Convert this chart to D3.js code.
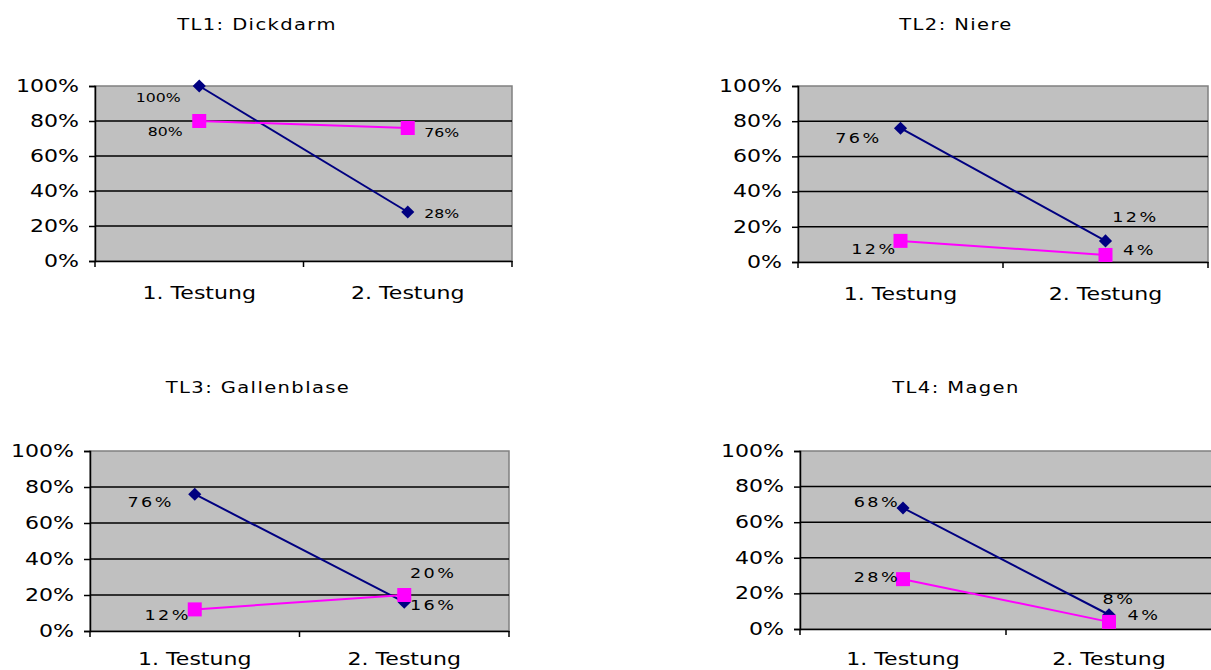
<!DOCTYPE html>
<html><head><meta charset="utf-8">
<script src="https://cdn.jsdelivr.net/npm/d3@7"></script>
<style>body{margin:0;background:#fff}svg{display:block}</style>
</head><body>
<script>
// ---- data ----
const categories = ["1. Testung", "2. Testung"];
const titles = ["TL1: Dickdarm", "TL2: Niere", "TL3: Gallenblase", "TL4: Magen"];
const seriesNavy = [[100, 28], [76, 12], [76, 16], [68, 8]];
const seriesPink = [[80, 76], [12, 4], [12, 20], [28, 4]];
const yTicks = [0, 20, 40, 60, 80, 100];

// ---- layout (positions / styles) ----
const panels = [
  {l: 95, r: 512, t: 86, b: 261, tx: 257, ty: 25, xly: 32, lblSize: 12.5, lblSp: 0},
  {l: 798, r: 1208, t: 86, b: 262, tx: 956, ty: 25, xly: 32, lblSize: 14, lblSp: 2},
  {l: 90, r: 509, t: 451, b: 631, tx: 258, ty: 388, xly: 28, lblSize: 14, lblSp: 2},
  {l: 800, r: 1212, t: 451, b: 629, tx: 956, ty: 388, xly: 30, lblSize: 14, lblSp: 2}
];
const navyOffsets = [[[-41, 12], [34, 2]], [[-42, 10], [30, -24]], [[-44, 8], [29, 3]], [[-26, -6], [10, -16]]];
const pinkOffsets = [[[-34, 11], [34, 5]], [[-26, 8], [34, -5]], [[-27, 6], [29, -22]], [[-26, -2], [35, -7]]];
const SX = 1.26;
const FONT = "'DejaVu Sans', Verdana, sans-serif";

const svg = d3.select("body").append("svg").attr("width", 1211).attr("height", 670);

function stretchedText(g, x, y, str, size, anchor, spacing) {
  const gg = g.append("g").attr("transform", `translate(${x},${y}) scale(${SX},1)`);
  gg.append("text").attr("x", 0).attr("y", 0)
    .attr("text-anchor", anchor).attr("dominant-baseline", "central")
    .attr("font-family", FONT).attr("font-size", size)
    .attr("letter-spacing", spacing || 0)
    .attr("fill", "#000").text(str);
}

panels.forEach((p, i) => {
  const g = svg.append("g");
  const x = d3.scaleBand().domain(categories).range([p.l, p.r]).padding(0);
  const y = d3.scaleLinear().domain([0, 100]).range([p.b, p.t]);
  const cx = c => x(c) + x.bandwidth() / 2;

  // plot area
  g.append("rect").attr("x", p.l).attr("y", p.t).attr("width", p.r - p.l).attr("height", p.b - p.t)
    .attr("fill", "#c0c0c0").attr("stroke", "#808080").attr("stroke-width", 1.5);

  // gridlines
  g.selectAll(".grid").data(yTicks.filter(v => v > 0 && v < 100)).enter().append("line")
    .attr("x1", p.l).attr("x2", p.r).attr("y1", d => y(d)).attr("y2", d => y(d))
    .attr("stroke", "#000").attr("stroke-width", 1.5);

  // y axis
  const yAxis = d3.axisLeft(y).tickValues(yTicks).tickSize(6).tickFormat(d => d + "%");
  const ya = g.append("g").attr("transform", `translate(${p.l},0)`).call(yAxis);
  ya.select(".domain").attr("stroke", "#000").attr("stroke-width", 1.5);
  ya.selectAll(".tick line").attr("stroke", "#000").attr("stroke-width", 1.5);
  ya.selectAll(".tick text").remove();
  yTicks.forEach(v => stretchedText(g, p.l - 16, y(v), v + "%", 17.5, "end"));

  // x axis
  const xa = g.append("g").attr("transform", `translate(0,${p.b})`)
    .call(d3.axisBottom(x).tickSize(0).tickFormat(""));
  xa.select(".domain").attr("stroke", "#000").attr("stroke-width", 1.5);
  const bounds = [p.l, ...categories.map(c => x(c) + x.bandwidth())];
  g.selectAll(".xt").data(bounds).enter().append("line")
    .attr("x1", d => d).attr("x2", d => d).attr("y1", p.b).attr("y2", p.b + 6)
    .attr("stroke", "#000").attr("stroke-width", 1.5);
  categories.forEach(c => stretchedText(g, cx(c), p.b + p.xly, c, 17.5, "middle"));

  // title
  stretchedText(g, p.tx, p.ty, titles[i], 15.5, "middle", 1.1);

  const line = d3.line().x((d, j) => cx(categories[j])).y(d => y(d));

  // navy series
  g.append("path").datum(seriesNavy[i]).attr("d", line).attr("fill", "none")
    .attr("stroke", "#000080").attr("stroke-width", 2);
  // pink series
  g.append("path").datum(seriesPink[i]).attr("d", line).attr("fill", "none")
    .attr("stroke", "#ff00ff").attr("stroke-width", 2);

  // navy diamonds
  g.selectAll(".dia").data(seriesNavy[i]).enter().append("path")
    .attr("d", d3.symbol().type(d3.symbolDiamond2).size(110))
    .attr("transform", (d, j) => `translate(${cx(categories[j])},${y(d)})`)
    .attr("fill", "#000080");
  // pink squares
  g.selectAll(".sq").data(seriesPink[i]).enter().append("rect")
    .attr("x", (d, j) => cx(categories[j]) - 7).attr("y", d => y(d) - 7)
    .attr("width", 14).attr("height", 14).attr("fill", "#ff00ff");

  // data labels
  seriesNavy[i].forEach((v, j) => {
    const o = navyOffsets[i][j];
    stretchedText(g, cx(categories[j]) + o[0], y(v) + o[1], v + "%", p.lblSize, "middle", p.lblSp);
  });
  seriesPink[i].forEach((v, j) => {
    const o = pinkOffsets[i][j];
    stretchedText(g, cx(categories[j]) + o[0], y(v) + o[1], v + "%", p.lblSize, "middle", p.lblSp);
  });
});
</script>
</body></html>
